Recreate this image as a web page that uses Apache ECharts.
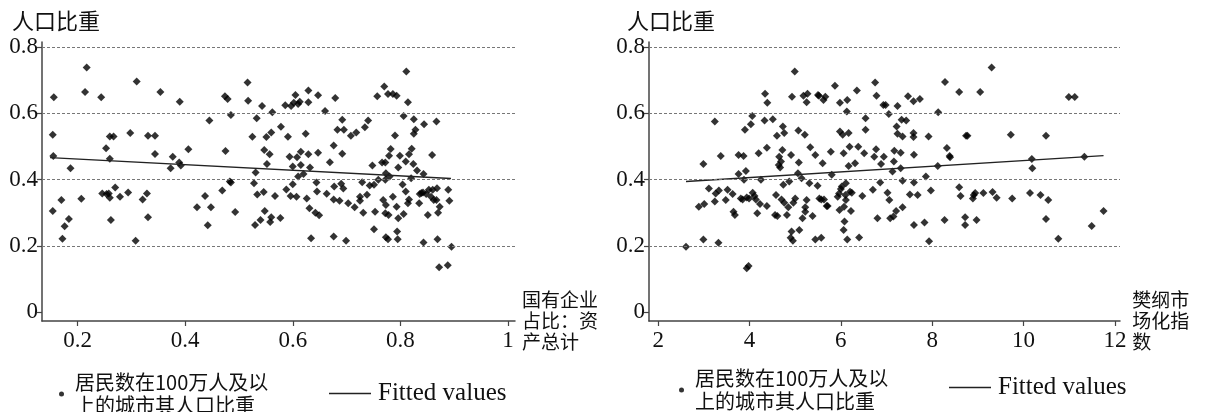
<!DOCTYPE html>
<html>
<head>
<meta charset="utf-8">
<script src="https://cdn.jsdelivr.net/npm/echarts@6/dist/echarts.min.js"></script>
<style>
  html, body { margin: 0; padding: 0; background: #fff; }
  #chart { width: 1207px; height: 412px; }
</style>
</head>
<body>
<div id="chart"></div>
<script>
// ticks
const yTicks = [0, 0.2, 0.4, 0.6, 0.8]
const soeTicks = [0.2, 0.4, 0.6, 0.8, 1]
const marketTicks = [2, 4, 6, 8, 10, 12]

// left panel: 国有企业占比 vs 人口比重
const soePoints = [
  [0.156,0.648],[0.154,0.535],[0.155,0.471],[0.154,0.305],[0.170,0.338],[0.172,0.221],[0.176,0.259],[0.184,0.281],
  [0.187,0.434],[0.207,0.342],[0.214,0.664],[0.217,0.738],[0.244,0.648],[0.246,0.358],[0.253,0.494],[0.254,0.356],
  [0.258,0.358],[0.260,0.530],[0.260,0.463],[0.260,0.345],[0.262,0.278],[0.267,0.530],[0.270,0.376],[0.279,0.348],
  [0.294,0.361],[0.298,0.540],[0.310,0.696],[0.308,0.215],[0.321,0.340],[0.329,0.358],[0.331,0.286],[0.331,0.532],
  [0.344,0.532],[0.344,0.477],[0.354,0.664],[0.373,0.434],[0.377,0.469],[0.389,0.451],[0.392,0.442],[0.390,0.635],
  [0.406,0.491],[0.422,0.316],[0.437,0.350],[0.442,0.262],[0.445,0.578],[0.448,0.316],[0.469,0.367],[0.474,0.651],
  [0.479,0.643],[0.475,0.486],[0.485,0.595],[0.483,0.394],[0.485,0.391],[0.493,0.302],[0.516,0.693],[0.517,0.638],
  [0.525,0.529],[0.528,0.389],[0.530,0.263],[0.531,0.421],[0.533,0.585],[0.534,0.355],[0.540,0.278],[0.543,0.622],
  [0.546,0.362],[0.547,0.489],[0.548,0.305],[0.551,0.528],[0.552,0.447],[0.557,0.476],[0.558,0.272],[0.560,0.542],
  [0.560,0.286],[0.562,0.603],[0.567,0.350],[0.577,0.284],[0.578,0.559],[0.586,0.624],[0.588,0.370],[0.591,0.529],
  [0.594,0.469],[0.597,0.622],[0.596,0.350],[0.600,0.386],[0.602,0.632],[0.605,0.655],[0.607,0.348],[0.608,0.467],
  [0.610,0.628],[0.610,0.409],[0.600,0.439],
  [0.613,0.635],[0.629,0.669],[0.629,0.633],[0.647,0.654],[0.660,0.607],[0.679,0.646],[0.692,0.580],[0.683,0.550],
  [0.695,0.550],[0.708,0.532],[0.718,0.542],[0.734,0.558],[0.740,0.578],[0.757,0.651],[0.770,0.681],[0.777,0.658],
  [0.786,0.658],[0.793,0.653],[0.811,0.726],[0.814,0.633],[0.806,0.592],[0.825,0.582],[0.828,0.550],[0.825,0.538],
  [0.844,0.567],[0.867,0.575],[0.624,0.538],[0.676,0.503],[0.692,0.478],[0.669,0.452],[0.647,0.481],[0.632,0.436],
  [0.615,0.444],[0.620,0.417],[0.615,0.484],[0.629,0.476],[0.790,0.533],[0.782,0.492],[0.779,0.472],[0.799,0.472],
  [0.816,0.476],[0.821,0.493],[0.810,0.454],[0.824,0.447],[0.796,0.436],[0.831,0.427],[0.843,0.417],[0.859,0.474],
  [0.772,0.451],[0.766,0.451],[0.748,0.442],[0.773,0.419],[0.780,0.409],[0.820,0.404],[0.644,0.391],[0.645,0.364],
  [0.663,0.357],[0.677,0.379],[0.690,0.387],[0.694,0.373],[0.676,0.340],[0.687,0.336],[0.703,0.328],[0.715,0.316],
  [0.725,0.348],[0.729,0.392],[0.725,0.336],[0.738,0.354],[0.743,0.382],[0.751,0.384],[0.759,0.399],[0.772,0.399],
  [0.804,0.385],[0.810,0.364],[0.816,0.340],[0.814,0.328],[0.836,0.356],[0.835,0.328],[0.842,0.361],[0.848,0.356],
  [0.853,0.369],[0.860,0.369],[0.868,0.374],[0.867,0.338],[0.873,0.318],[0.889,0.369],[0.891,0.336],[0.857,0.348],
  [0.862,0.338],[0.851,0.293],[0.870,0.300],[0.731,0.300],[0.753,0.303],[0.768,0.338],[0.773,0.323],[0.786,0.348],
  [0.772,0.298],[0.778,0.293],[0.793,0.318],[0.796,0.283],[0.806,0.296],[0.631,0.313],[0.642,0.300],[0.649,0.292],
  [0.626,0.343],[0.634,0.223],[0.676,0.228],[0.699,0.215],[0.751,0.250],[0.773,0.226],[0.777,0.220],[0.794,0.243],
  [0.795,0.220],[0.843,0.210],[0.869,0.220],[0.895,0.197],[0.872,0.135],[0.888,0.141],[0.839,0.359]
]
const soeFit = [[0.149, 0.466], [0.894, 0.403]]

// right panel: 樊纲市场化指数 vs 人口比重
const marketPoints = [
  [2.61,0.197],[2.89,0.318],[2.99,0.447],[2.99,0.219],[3.01,0.326],[3.11,0.373],[3.24,0.575],[3.24,0.334],
  [3.26,0.358],[3.32,0.209],[3.33,0.367],[3.37,0.471],[3.48,0.338],[3.52,0.369],[3.63,0.356],[3.65,0.303],
  [3.68,0.293],[3.76,0.417],[3.76,0.474],[3.81,0.343],[3.85,0.340],[3.87,0.471],[3.88,0.399],[3.90,0.550],
  [3.92,0.426],[3.94,0.346],[3.98,0.139],[3.94,0.132],[3.99,0.343],[4.03,0.567],[4.06,0.592],[4.07,0.360],
  [4.11,0.350],[4.14,0.340],[4.17,0.298],[4.20,0.479],[4.23,0.326],[4.25,0.399],[4.33,0.578],[4.34,0.659],
  [4.38,0.496],[4.39,0.632],[4.38,0.320],[4.51,0.582],[4.56,0.293],[4.58,0.353],[4.60,0.532],[4.61,0.290],
  [4.64,0.444],[4.65,0.469],[4.67,0.436],[4.69,0.454],[4.70,0.340],[4.73,0.560],[4.72,0.489],[4.76,0.540],
  [4.76,0.330],[4.74,0.384],[4.82,0.293],[4.85,0.316],[4.87,0.394],[4.90,0.224],[4.91,0.474],[4.92,0.243],
  [4.93,0.650],[4.95,0.215],[4.96,0.330],[4.99,0.726],[5.00,0.343],[5.07,0.548],[5.06,0.419],[5.09,0.248],
  [5.08,0.451],[5.14,0.404],[5.16,0.283],[5.18,0.653],[5.21,0.535],[5.22,0.316],[5.22,0.303],[5.25,0.338],
  [5.25,0.633],[5.27,0.659],[5.31,0.389],[5.33,0.497],[5.38,0.290],[5.44,0.474],[5.44,0.219],[5.49,0.381],
  [5.50,0.655],[5.52,0.653],[5.53,0.343],[5.57,0.340],[5.57,0.224],[5.60,0.449],[5.62,0.640],[5.63,0.340],
  [5.66,0.650],[5.69,0.320],[5.71,0.320],[5.78,0.484],[5.80,0.414],[5.87,0.683],[5.93,0.348],[5.96,0.358],
  [5.98,0.545],[5.97,0.308],[5.98,0.632],[6.00,0.371],[6.02,0.379],[6.04,0.535],[6.06,0.479],[6.06,0.248],
  [6.07,0.318],[6.08,0.273],[6.10,0.353],[6.11,0.338],[6.11,0.389],[6.13,0.605],[6.14,0.640],[6.14,0.219],
  [6.17,0.540],[6.17,0.441],[6.20,0.363],[6.22,0.305],[6.24,0.360],[6.19,0.499],[6.31,0.449],[6.35,0.669],
  [6.38,0.499],[6.40,0.225],[6.47,0.350],[6.54,0.585],[6.54,0.550],[6.51,0.479],[6.70,0.369],[6.73,0.469],
  [6.75,0.693],[6.77,0.491],[6.78,0.653],[6.80,0.283],[6.86,0.391],[6.88,0.447],[6.93,0.625],[6.94,0.469],
  [6.98,0.625],[7.02,0.360],[7.05,0.598],[7.06,0.338],[7.08,0.283],[7.13,0.424],[7.15,0.288],[7.16,0.454],
  [7.17,0.487],[7.21,0.305],[7.22,0.560],[7.24,0.622],[7.24,0.538],
  [7.47,0.651],[7.59,0.636],[7.73,0.643],[7.33,0.580],[7.43,0.578],[7.35,0.530],[7.59,0.540],[7.59,0.528],
  [7.92,0.530],[8.13,0.603],[8.28,0.694],[8.59,0.664],[9.05,0.664],[9.30,0.738],[8.32,0.495],[8.38,0.471],
  [8.39,0.467],[8.74,0.532],[8.77,0.532],[9.72,0.535],[10.49,0.532],[10.99,0.649],[11.12,0.649],[7.31,0.481],
  [7.31,0.434],[7.60,0.475],[8.12,0.441],[10.18,0.462],[10.19,0.434],[11.33,0.469],[7.35,0.396],[7.60,0.391],
  [7.86,0.409],[7.51,0.355],[7.68,0.353],[7.97,0.367],[8.59,0.377],[8.62,0.350],[8.89,0.343],[8.91,0.353],
  [8.94,0.359],[9.12,0.359],[9.32,0.362],[9.41,0.345],[9.75,0.343],[10.14,0.359],[10.37,0.353],[10.54,0.338],
  [7.35,0.316],[7.60,0.263],[7.83,0.270],[8.27,0.278],[8.72,0.286],[8.72,0.263],[8.97,0.278],[10.49,0.281],
  [11.49,0.260],[11.75,0.305],[7.93,0.214],[10.76,0.221]
]
const marketFit = [[2.61, 0.394], [11.75, 0.472]]

const scatterName = '居民数在100万人及以\n上的城市其人口比重'
const fitName = 'Fitted values'

const cjk = '"Noto Sans CJK SC", "Noto Sans CJK JP", sans-serif'
const serif = '"Liberation Serif", "DejaVu Serif", serif'
const ink = '#111'

const axisLine = { show: true, onZero: false, lineStyle: { color: '#444', width: 1.5 } }
const axisTick = (vals) => ({ show: true, length: 5, customValues: vals, lineStyle: { color: '#444', width: 1.2 } })

const makeY = (gridIndex) => ({
  type: 'value',
  gridIndex,
  min: -0.027,
  max: 0.815,
  axisLine,
  axisTick: axisTick(yTicks),
  axisLabel: {
    customValues: yTicks,
    margin: 4,
    fontFamily: serif,
    fontSize: 23,
    color: ink,
    formatter: v => String(v)
  },
  splitLine: { show: false }
})

const makeX = (gridIndex, min, max, ticks, name, gap) => ({
  type: 'value',
  gridIndex,
  min,
  max,
  axisLine,
  axisTick: axisTick(ticks),
  axisLabel: {
    customValues: ticks,
    margin: 8,
    fontFamily: serif,
    fontSize: 23,
    color: ink,
    formatter: v => String(v)
  },
  splitLine: { show: false },
  name,
  nameLocation: 'end',
  nameGap: gap,
  nameTextStyle: {
    align: 'left',
    verticalAlign: 'middle',
    fontFamily: cjk,
    fontSize: 19,
    lineHeight: 21,
    color: ink,
    padding: [0, 0, 4, 0]
  }
})

const gridLines = {
  silent: true,
  symbol: 'none',
  label: { show: false },
  lineStyle: { color: '#777', type: [3, 2], width: 1 },
  data: yTicks.filter(v => v > 0).map(v => ({ yAxis: v }))
}

const scatterSeries = (idx, data) => ({
  name: scatterName,
  type: 'scatter',
  xAxisIndex: idx,
  yAxisIndex: idx,
  data,
  symbol: 'diamond',
  symbolSize: 8,
  itemStyle: { color: '#000' },
  markLine: gridLines,
  z: 3
})

const fitSeries = (idx, data) => ({
  name: fitName,
  type: 'line',
  xAxisIndex: idx,
  yAxisIndex: idx,
  data,
  symbol: 'none',
  lineStyle: { color: '#222', width: 1.3 },
  itemStyle: { color: '#222' },
  z: 4
})

const titleStyle = { fontFamily: cjk, fontSize: 22, fontWeight: 'normal', color: ink }
const scatterLegend = (left, top) => ({
  data: [scatterName],
  left, top,
  icon: 'circle',
  itemWidth: 5,
  itemHeight: 5,
  padding: 0,
  selectedMode: false,
  textStyle: { fontFamily: cjk, fontSize: 20, lineHeight: 23, color: ink, padding: [0, 0, 0, 6] }
})
const fitLegend = (left, top) => ({
  data: [fitName],
  left, top,
  icon: 'rect',
  itemWidth: 42,
  itemHeight: 1.3,
  padding: 0,
  selectedMode: false,
  textStyle: { fontFamily: serif, fontSize: 25, color: ink, padding: [0, 0, 0, 2] }
})

const chart = echarts.init(document.getElementById('chart'))
chart.setOption({
  animation: false,
  backgroundColor: '#fff',
  title: [
    { text: '人口比重', left: 12, top: 10, padding: 0, textStyle: titleStyle },
    { text: '人口比重', left: 627, top: 10, padding: 0, textStyle: titleStyle }
  ],
  legend: [
    scatterLegend(59, 371),
    fitLegend(329, 381),
    scatterLegend(679, 367),
    fitLegend(949, 375)
  ],
  grid: [
    { left: 42, top: 42, width: 473, height: 279 },
    { left: 649, top: 42, width: 471, height: 279 }
  ],
  xAxis: [
    makeX(0, 0.134, 1.013, soeTicks, '国有企业\n占比：资\n产总计', 7),
    makeX(1, 1.80, 12.11, marketTicks, '樊纲市\n场化指\n数', 11)
  ],
  yAxis: [makeY(0), makeY(1)],
  series: [
    scatterSeries(0, soePoints),
    fitSeries(0, soeFit),
    scatterSeries(1, marketPoints),
    fitSeries(1, marketFit)
  ]
})
</script>
</body>
</html>
